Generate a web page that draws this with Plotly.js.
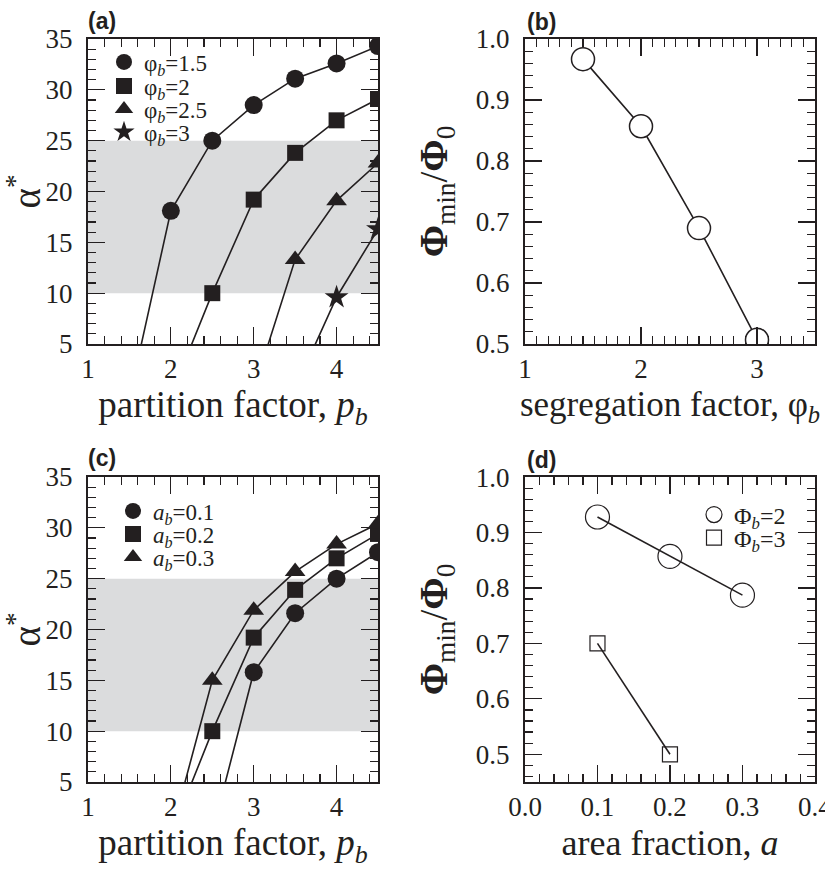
<!DOCTYPE html>
<html>
<head>
<meta charset="utf-8">
<script src="https://cdn.plot.ly/plotly-3.0.1.min.js"></script>
<style>html,body{margin:0;padding:0;background:#fff;}#chart{width:825px;height:869px;}</style>
</head>
<body>
<div id="chart"></div>
<script>
// ---------- Panel (a): alpha* vs partition factor, series by segregation factor ----------
const a_x_phi15 = [1.5, 2, 2.5, 3, 3.5, 4, 4.5];
const a_y_phi15 = [-0.3, 18.1, 25.0, 28.5, 31.1, 32.6, 34.3];
const a_x_phi2  = [2, 2.5, 3, 3.5, 4, 4.5];
const a_y_phi2  = [-0.1, 10.0, 19.2, 23.8, 27.0, 29.1];
const a_x_phi25 = [3, 3.5, 4, 4.5];
const a_y_phi25 = [0.5, 13.3, 19.1, 22.8];
const a_x_phi3  = [3.5, 4, 4.5];
const a_y_phi3  = [0.6, 9.6, 16.3];
const a_labels  = ["φ<sub><i>b</i></sub>=1.5", "φ<sub><i>b</i></sub>=2", "φ<sub><i>b</i></sub>=2.5", "φ<sub><i>b</i></sub>=3"];

// ---------- Panel (b): Phi_min/Phi_0 vs segregation factor ----------
const b_x = [1.5, 2, 2.5, 3];
const b_y = [0.967, 0.857, 0.690, 0.507];

// ---------- Panel (c): alpha* vs partition factor, series by area fraction ----------
const c_x_a01 = [2.5, 3, 3.5, 4, 4.5];
const c_y_a01 = [0.0, 15.8, 21.6, 25.0, 27.6];
const c_x_a02 = [2, 2.5, 3, 3.5, 4, 4.5];
const c_y_a02 = [-0.2, 10.0, 19.2, 23.9, 27.0, 29.4];
const c_x_a03 = [2, 2.5, 3, 3.5, 4, 4.5];
const c_y_a03 = [-0.2, 15.0, 21.9, 25.7, 28.4, 30.4];
const c_labels = ["<i>a<sub>b</sub></i>=0.1", "<i>a<sub>b</sub></i>=0.2", "<i>a<sub>b</sub></i>=0.3"];

// ---------- Panel (d): Phi_min/Phi_0 vs area fraction ----------
const d_x_phi2 = [0.1, 0.2, 0.3];
const d_y_phi2 = [0.928, 0.857, 0.787];
const d_x_phi3 = [0.1, 0.2];
const d_y_phi3 = [0.700, 0.500];
const d_labels = ["Φ<sub><i>b</i></sub>=2", "Φ<sub><i>b</i></sub>=3"];

// shaded band (alpha* range)
const bandLow = 10, bandHigh = 25;

const INK = '#231f20';
const SERIF = "'Liberation Serif', serif";

function lineTrace(x, y, xa, ya) {
  return {x, y, xaxis: xa, yaxis: ya, mode: 'lines', type: 'scatter', showlegend: false,
          line: {color: INK, width: 1.6}, hoverinfo: 'skip'};
}
function markTrace(x, y, xa, ya, name, symbol, size, legend, open) {
  return {x, y, xaxis: xa, yaxis: ya, mode: 'markers', type: 'scatter', name, legend,
          showlegend: true,
          marker: {symbol, size, color: open ? 'rgba(0,0,0,0)' : INK,
                   line: {color: INK, width: open ? 1.2 : 0}}};
}

const traces = [
  // (a)
  lineTrace(a_x_phi15, a_y_phi15, 'x', 'y'),
  lineTrace(a_x_phi2, a_y_phi2, 'x', 'y'),
  lineTrace(a_x_phi25, a_y_phi25, 'x', 'y'),
  lineTrace(a_x_phi3, a_y_phi3, 'x', 'y'),
  markTrace(a_x_phi15, a_y_phi15, 'x', 'y', a_labels[0], 'circle', 18, 'legend'),
  markTrace(a_x_phi2, a_y_phi2, 'x', 'y', a_labels[1], 'square', 16, 'legend2'),
  markTrace(a_x_phi25, a_y_phi25, 'x', 'y', a_labels[2], 'triangle-up', 18, 'legend3'),
  markTrace(a_x_phi3, a_y_phi3, 'x', 'y', a_labels[3], 'star', 18, 'legend4'),
  // (b)
  {x: b_x, y: b_y, xaxis: 'x2', yaxis: 'y2', mode: 'lines+markers', type: 'scatter', showlegend: false,
   line: {color: INK, width: 1.6},
   marker: {symbol: 'circle', size: 23, color: '#ffffff', line: {color: INK, width: 1.5}}},
  // (c)
  lineTrace(c_x_a01, c_y_a01, 'x3', 'y3'),
  lineTrace(c_x_a02, c_y_a02, 'x3', 'y3'),
  lineTrace(c_x_a03, c_y_a03, 'x3', 'y3'),
  markTrace(c_x_a01, c_y_a01, 'x3', 'y3', c_labels[0], 'circle', 18, 'legend5'),
  markTrace(c_x_a02, c_y_a02, 'x3', 'y3', c_labels[1], 'square', 16, 'legend6'),
  markTrace(c_x_a03, c_y_a03, 'x3', 'y3', c_labels[2], 'triangle-up', 18, 'legend7'),
  // (d)
  lineTrace(d_x_phi2, d_y_phi2, 'x4', 'y4'),
  lineTrace(d_x_phi3, d_y_phi3, 'x4', 'y4'),
  markTrace(d_x_phi2, d_y_phi2, 'x4', 'y4', d_labels[0], 'circle', 24, 'legend8', true),
  markTrace(d_x_phi3, d_y_phi3, 'x4', 'y4', d_labels[1], 'square', 15, 'legend9', true),
];

const W = 825, H = 869;
const colA = [88 / W, 378 / W], colB = [525 / W, 815 / W];
const rowTop = [(H - 344) / H, (H - 39) / H], rowBot = [(H - 782) / H, (H - 477) / H];

function axis(domain, range, dtick, minorDtick, extra) {
  return Object.assign({
    domain, range, dtick, tick0: 0, autorange: false,
    showline: true, linecolor: INK, linewidth: 2, mirror: 'allticks',
    ticks: 'inside', ticklen: 17, tickwidth: 1.2, tickcolor: INK,
    minor: {dtick: minorDtick, ticks: 'inside', ticklen: 8, tickwidth: 1.2, tickcolor: INK, showgrid: false},
    showgrid: false, zeroline: false, fixedrange: true,
    tickfont: {family: SERIF, size: 27, color: INK},
    ticklabeloverflow: 'allow',
    automargin: false
  }, extra || {});
}
function xTitle(text, size) {
  return {ticklabelstandoff: 0, title: {text, font: {family: SERIF, size: size, color: INK}, standoff: 8}};
}
function yTitle(text, standoff) {
  return {ticklabelstandoff: 8, title: {text, font: {family: SERIF, size: 39, color: INK}, standoff}};
}

const alphaTitle = 'α<sup>*</sup>';
const phiTitle = '<b>Φ</b><sub>min</sub>/<b>Φ</b><sub>0</sub>';

const layout = {
  width: W, height: H,
  margin: {l: 0, r: 0, t: 0, b: 0},
  paper_bgcolor: '#ffffff', plot_bgcolor: 'rgba(0,0,0,0)',
  showlegend: true,
  xaxis:  axis(colA, [1, 4.5], 1, 0.2, Object.assign({anchor: 'y'}, xTitle('partition factor, <i>p<sub>b</sub></i>', 37))),
  yaxis:  axis(rowTop, [5, 35], 5, 1, Object.assign({anchor: 'x'}, yTitle(alphaTitle, 18))),
  xaxis2: axis(colB, [1, 3.5], 1, 0.1, Object.assign({anchor: 'y2'}, xTitle('segregation factor, φ<sub><i>b</i></sub>', 35))),
  yaxis2: axis(rowTop, [0.5, 1.0], 0.1, 0.02, Object.assign({anchor: 'x2', tickformat: '.1f'}, yTitle(phiTitle, 16))),
  xaxis3: axis(colA, [1, 4.5], 1, 0.2, Object.assign({anchor: 'y3'}, xTitle('partition factor, <i>p<sub>b</sub></i>', 37))),
  yaxis3: axis(rowBot, [5, 35], 5, 1, Object.assign({anchor: 'x3'}, yTitle(alphaTitle, 18))),
  xaxis4: axis(colB, [0, 0.4001], 0.1, 0.02, Object.assign({anchor: 'y4', tickformat: '.1f'}, xTitle('area fraction, <i>a</i>', 36))),
  yaxis4: axis(rowBot, [0.45, 1.0001], 0.1, 0.02, Object.assign({anchor: 'x4', tickformat: '.1f'}, yTitle(phiTitle, 16))),
  shapes: [
    {type: 'rect', xref: 'x domain', yref: 'y', x0: 0, x1: 1, y0: bandLow, y1: bandHigh,
     fillcolor: '#dbdcdd', line: {width: 0}, layer: 'below'},
    {type: 'rect', xref: 'x3 domain', yref: 'y3', x0: 0, x1: 1, y0: bandLow, y1: bandHigh,
     fillcolor: '#dbdcdd', line: {width: 0}, layer: 'below'}
  ],
  annotations: [
    {text: '<b>(a)</b>', x: 86 / W, y: 1 - 21 / H},
    {text: '<b>(b)</b>', x: 525 / W, y: 1 - 22 / H},
    {text: '<b>(c)</b>', x: 86 / W, y: 1 - 458 / H},
    {text: '<b>(d)</b>', x: 525 / W, y: 1 - 460 / H}
  ].map(a => Object.assign({xref: 'paper', yref: 'paper', xanchor: 'left', yanchor: 'middle',
        showarrow: false, font: {family: "'Liberation Sans', sans-serif", size: 23, color: INK}}, a))
};

// one single-entry legend per series so that rows can sit as closely as in the original
function legendAt(symX, rowY, size) {
  return {x: (symX - 20) / W, y: 1 - rowY / H, xanchor: 'left', yanchor: 'middle',
          bgcolor: 'rgba(0,0,0,0)', borderwidth: 0, itemsizing: 'trace',
          font: {family: SERIF, size: size, color: INK}};
}
layout.legend  = legendAt(124, 62, 23);
layout.legend2 = legendAt(124, 86, 23);
layout.legend3 = legendAt(124, 109, 23);
layout.legend4 = legendAt(124, 132, 23);
layout.legend5 = legendAt(133, 511, 23);
layout.legend6 = legendAt(133, 534, 23);
layout.legend7 = legendAt(133, 557, 23);
layout.legend8 = legendAt(714, 515, 24);
layout.legend9 = legendAt(714, 538, 24);

Plotly.newPlot('chart', traces, layout, {staticPlot: true, displayModeBar: false});
</script>
</body>
</html>
